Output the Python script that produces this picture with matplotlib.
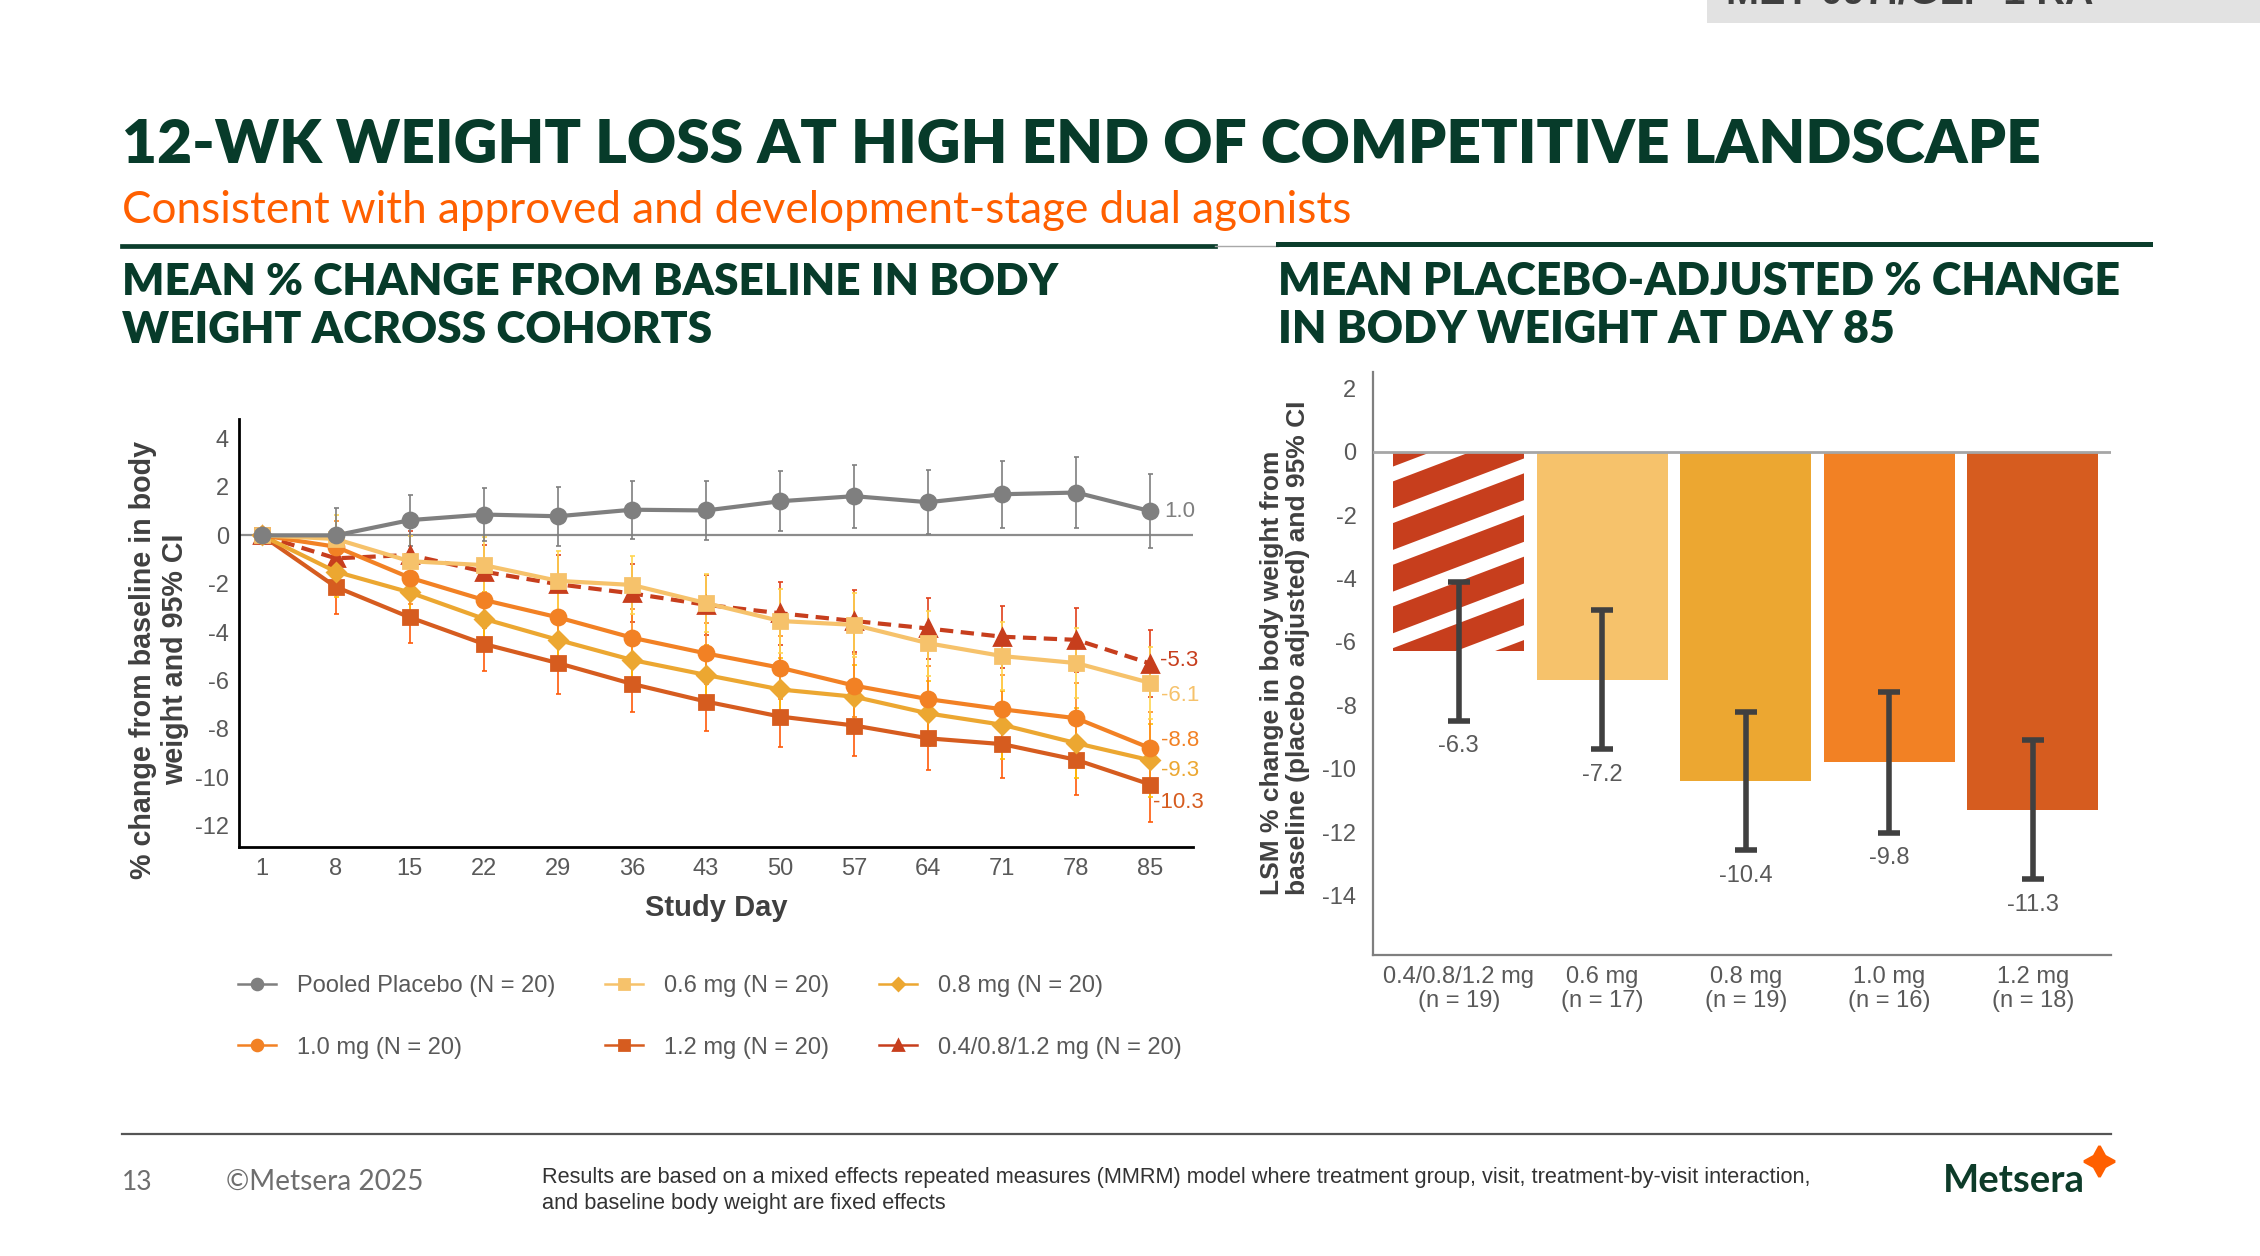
import matplotlib
matplotlib.use('Agg')
import matplotlib.pyplot as plt
from matplotlib.lines import Line2D
from matplotlib.patches import Rectangle

plt.rcParams['font.family'] = ['Liberation Sans', 'DejaVu Sans']
plt.rcParams['axes.unicode_minus'] = False

# ---------------- data
days = [1, 8, 15, 22, 29, 36, 43, 50, 57, 64, 71, 78, 85]

placebo = [0.0, 0.0, 0.63, 0.86, 0.79, 1.06, 1.03, 1.41, 1.62, 1.37, 1.70, 1.77, 1.0]
mg06 = [0.0, -0.15, -1.07, -1.23, -1.88, -2.05, -2.80, -3.54, -3.70, -4.46, -4.99, -5.28, -6.1]
mg08 = [0.0, -1.50, -2.36, -3.45, -4.32, -5.15, -5.77, -6.37, -6.67, -7.36, -7.83, -8.59, -9.3]
mg10 = [0.0, -0.47, -1.75, -2.67, -3.39, -4.23, -4.88, -5.47, -6.21, -6.77, -7.19, -7.56, -8.8]
mg12 = [0.0, -2.13, -3.39, -4.49, -5.28, -6.14, -6.87, -7.49, -7.86, -8.39, -8.63, -9.28, -10.3]
titr = [0.0, -0.95, -0.81, -1.50, -2.02, -2.40, -2.87, -3.22, -3.54, -3.85, -4.19, -4.32, -5.3]

# half widths of the 95% CI
placebo_ci = [0, 1.13, 1.05, 1.10, 1.22, 1.20, 1.22, 1.23, 1.30, 1.32, 1.38, 1.45, 1.53]
mg06_ci = [0, 1.00, 1.05, 1.15, 1.23, 1.20, 1.20, 1.34, 1.32, 1.35, 1.40, 1.45, 1.50]
mg08_ci = [0, 1.05, 1.05, 1.10, 1.20, 1.20, 1.25, 1.30, 1.30, 1.35, 1.40, 1.45, 1.50]
mg10_ci = [0, 1.05, 1.10, 1.15, 1.20, 1.20, 1.25, 1.30, 1.30, 1.35, 1.40, 1.45, 1.50]
mg12_ci = [0, 1.12, 1.06, 1.10, 1.26, 1.17, 1.22, 1.25, 1.26, 1.29, 1.39, 1.46, 1.54]
titr_ci = [0, 1.00, 1.00, 1.10, 1.20, 1.20, 1.25, 1.30, 1.30, 1.25, 1.28, 1.32, 1.40]

legend_labels = ['Pooled Placebo (N = 20)', '0.6 mg (N = 20)', '0.8 mg (N = 20)',
                 '1.0 mg (N = 20)', '1.2 mg (N = 20)', '0.4/0.8/1.2 mg (N = 20)']

bar_labels = ['0.4/0.8/1.2 mg\n(n = 19)', '0.6 mg\n(n = 17)', '0.8 mg\n(n = 19)',
              '1.0 mg\n(n = 16)', '1.2 mg\n(n = 18)']
bar_vals = [-6.3, -7.2, -10.4, -9.8, -11.3]
bar_ci = [2.19, 2.19, 2.18, 2.22, 2.19]

# ---------------- colours
GREEN = '#073B2A'
ORANGE = '#FF5F00'
GREY_TXT = '#595959'
c_plac, c06, c08, c10, c12, c_tit = '#7F7F7F', '#F6C26B', '#ECA731', '#F28124', '#D65C1F', '#C73E1D'
e_plac, e06, e08, e10, e12, e_tit = '#7F7F7F', '#FFD54F', '#FFC000', '#FF8A1F', '#FF5B0A', '#E0401A'

W, H = 2260, 1256
fig = plt.figure(figsize=(W / 200, H / 200), dpi=200)


def fx(px):
    return px / W


def fy(py):
    return 1 - py / H


# ================= left chart
ax1 = fig.add_axes([fx(239), fy(846.7), (1192.7 - 239) / W, (846.7 - 419) / H])
ax1.axhline(0, color='#8C8C8C', lw=0.8, zorder=1)

series = [
    (titr, titr_ci, c_tit, e_tit, '^', 5.6, (0, (3.2, 1.8))),
    (mg12, mg12_ci, c12, e12, 's', 4.8, '-'),
    (mg08, mg08_ci, c08, e08, 'D', 4.4, '-'),
    (mg10, mg10_ci, c10, e10, 'o', 5.4, '-'),
    (mg06, mg06_ci, c06, e06, 's', 4.8, '-'),
    (placebo, placebo_ci, c_plac, e_plac, 'o', 5.4, '-'),
]
for vals, ci, col, ecol, mk, ms, ls in series:
    ax1.errorbar(days, vals, yerr=ci, fmt='none', ecolor=ecol, elinewidth=0.6,
                 capsize=0.9, capthick=0.6, zorder=2)
    ax1.plot(days, vals, color=col, marker=mk, ms=ms, lw=1.5, ls=ls, zorder=3)

end_labels = [
    (placebo, c_plac, (5, 0)),
    (titr, c_tit, (3.6, 1)),
    (mg06, c06, (4, -4.7)),
    (mg10, c10, (4, 2.7)),
    (mg08, c08, (4, -3.6)),
    (mg12, c12, (1, -6.4)),
]
for vals, col, off in end_labels:
    ax1.annotate(f'{vals[-1]:.1f}', (days[-1], vals[-1]), xytext=off,
                 textcoords='offset points', ha='left', va='center',
                 fontsize=8, color=col)

ax1.set_xlim(-1.15, 89)
ax1.set_ylim(-12.87, 4.81)
ax1.set_xticks(days)
ax1.set_yticks(range(-12, 5, 2))
ax1.tick_params(axis='both', length=0, labelsize=8.5, labelcolor=GREY_TXT)
ax1.tick_params(axis='x', pad=4)
ax1.tick_params(axis='y', pad=3.6)
for s in ['top', 'right']:
    ax1.spines[s].set_visible(False)
for s in ['left', 'bottom']:
    ax1.spines[s].set_color('black')
    ax1.spines[s].set_linewidth(1.0)

ax1.set_xlabel('Study Day', fontsize=10.5, fontweight='bold', color='#404040')
ax1.xaxis.set_label_coords(0.5, -0.11)
ax1.set_ylabel('% change from baseline in body\nweight and 95% CI', fontsize=10.3,
               fontweight='bold', color='#404040', multialignment='center',
               linespacing=1.22)
ax1.yaxis.set_label_coords(-0.052, 0.437)

handles = []
for col, mk in [(c_plac, 'o'), (c06, 's'), (c08, 'D'), (c10, 'o'), (c12, 's'), (c_tit, '^')]:
    handles.append(Line2D([], [], color=col, marker=mk, ms=3.9 if mk != 'D' else 3.3, lw=0.9))
order = [0, 3, 1, 4, 2, 5]
fig.legend([handles[i] for i in order], [legend_labels[i] for i in order], ncol=3,
           loc='upper left', bbox_to_anchor=(fx(238), fy(975)), bbox_transform=fig.transFigure,
           frameon=False, fontsize=8.5, labelcolor=GREY_TXT, handlelength=1.6,
           handletextpad=0.9, columnspacing=2.1, labelspacing=1.68, borderpad=0,
           borderaxespad=0)

# ================= right chart
ax2 = fig.add_axes([fx(1372.6), fy(954.7), (2110.9 - 1372.6) / W, (954.7 - 371.8) / H])
xpos = list(range(len(bar_vals)))
bars = ax2.bar(xpos, bar_vals, width=0.912, color=[c_tit, c06, c08, c10, c12],
               lw=0, zorder=2)

# white diagonal stripes on the titration bar, clipped to the bar
b0 = bars[0]
left = b0.get_x()
for m in range(-6, 2):
    c = -0.70 + 1.315 * m
    stripe, = ax2.plot([left - 0.1, left + b0.get_width() + 0.1],
                       [c - 1.72 * 0.1, c + 1.72 * (b0.get_width() + 0.1)],
                       color='white', lw=5.0, solid_capstyle='butt', zorder=2.5)
    stripe.set_clip_path(b0)

ax2.axhline(0, color='#A6A6A6', lw=1.0, zorder=3)
ax2.errorbar(xpos, bar_vals, yerr=bar_ci, fmt='none', ecolor='#404040', elinewidth=2.0,
             capsize=4.1, capthick=2.0, zorder=4)
for i, (v, e) in enumerate(zip(bar_vals, bar_ci)):
    ax2.text(i, v - e - 0.8, f'{v:.1f}', ha='center', va='center', fontsize=8.5,
             color=GREY_TXT)

ax2.set_xlim(-0.6, 4.545)
ax2.set_ylim(-15.87, 2.52)
ax2.set_yticks(range(-14, 3, 2))
ax2.set_xticks(xpos)
ax2.set_xticklabels(bar_labels, linespacing=1.08)
ax2.tick_params(axis='both', length=0, labelsize=8.5, labelcolor=GREY_TXT)
ax2.tick_params(axis='x', pad=4.2)
ax2.tick_params(axis='y', pad=5.8)
for s in ['top', 'right']:
    ax2.spines[s].set_visible(False)
for s in ['left', 'bottom']:
    ax2.spines[s].set_color('#7F7F7F')
    ax2.spines[s].set_linewidth(0.8)
ax2.set_ylabel('LSM % change in body weight from\nbaseline (placebo adjusted) and 95% CI',
               fontsize=9.5, fontweight='bold', color='#404040', multialignment='left',
               linespacing=1.1)
ax2.yaxis.set_label_coords(-0.085, 0.527)

# ================= slide furniture
fig.add_artist(Rectangle((fx(1707), fy(23)), (W - 1707) / W, 23 / H,
                         transform=fig.transFigure, color='#E2E2E2', lw=0))
tag = fig.text(fx(1726), fy(3.5), 'MET-097i/GLP-1 RA', fontsize=13, fontweight='bold',
               color='#3F3F3F', va='baseline')

title = fig.text(fx(122), fy(163), '12-WK WEIGHT LOSS AT HIGH END OF COMPETITIVE LANDSCAPE',
                 family=['Lato', 'DejaVu Sans'], fontweight='heavy', color=GREEN,
                 fontsize=22, va='baseline')
subtitle = fig.text(fx(122), fy(222.7), 'Consistent with approved and development-stage dual agonists',
                    family=['Lato', 'DejaVu Sans'], color=ORANGE, fontsize=15, va='baseline')

fig.add_artist(Line2D([fx(122), fx(1215)], [fy(246), fy(246)], color='#0B3D2C', lw=1.7,
                      transform=fig.transFigure))
fig.add_artist(Line2D([fx(1215), fx(1278)], [fy(246), fy(246)], color='#A8A8A8', lw=0.5,
                      transform=fig.transFigure))
fig.add_artist(Line2D([fx(1278), fx(2150)], [fy(244), fy(244)], color='#0B3D2C', lw=1.8,
                      transform=fig.transFigure))

heads = []
for x0, lines, width in [(122, ['MEAN % CHANGE FROM BASELINE IN BODY', 'WEIGHT ACROSS COHORTS'], 937),
                         (1278, ['MEAN PLACEBO-ADJUSTED % CHANGE', 'IN BODY WEIGHT AT DAY 85'], 842)]:
    t1 = fig.text(fx(x0), fy(295), lines[0], family=['Lato', 'DejaVu Sans'], fontweight='heavy',
                  color=GREEN, fontsize=14, va='baseline')
    t2 = fig.text(fx(x0), fy(343.3), lines[1], family=['Lato', 'DejaVu Sans'], fontweight='heavy',
                  color=GREEN, fontsize=14, va='baseline')
    heads.append((t1, t2, width))

fig.add_artist(Line2D([fx(122), fx(2111)], [fy(1134), fy(1134)], color='#555555', lw=0.8,
                      transform=fig.transFigure))
fig.text(fx(122), fy(1190), '13', family=['Lato', 'DejaVu Sans'], color='#6E6E6E',
         fontsize=9.5, va='baseline')
copy = fig.text(fx(226), fy(1190), '©Metsera 2025', family=['Lato', 'DejaVu Sans'],
                color='#6E6E6E', fontsize=9.5, va='baseline')
note1 = fig.text(fx(542), fy(1183), 'Results are based on a mixed effects repeated measures (MMRM) '
                 'model where treatment group, visit, treatment-by-visit interaction,',
                 fontsize=7.3, color='#333333', va='baseline')
note2 = fig.text(fx(542), fy(1209.5), 'and baseline body weight are fixed effects',
                 fontsize=7.3, color='#333333', va='baseline')
logo = fig.text(fx(1943), fy(1191.7), 'Metsera', family=['Lato', 'DejaVu Sans'],
                fontweight='bold', color='#0D3B29', fontsize=14, va='baseline')
fig.add_artist(Line2D([fx(2099)], [fy(1160.7)], marker=(4, 1, 0), ms=11, color=ORANGE,
                      lw=0, transform=fig.transFigure))

# scale the slide texts to the widths measured on the reference
fig.canvas.draw()
r = fig.canvas.get_renderer()


def fit_width(t, px):
    w = t.get_window_extent(r).width
    t.set_fontsize(t.get_fontsize() * px / w)


fit_width(tag, 367)
fit_width(title, 1917)
fit_width(subtitle, 1225)
fit_width(copy, 198)
fit_width(note1, 1271)
note2.set_fontsize(note1.get_fontsize())
fit_width(logo, 142)
for t1, t2, width in heads:
    fit_width(t1, width)
    t2.set_fontsize(t1.get_fontsize())

fig.savefig('out.png', dpi=200, facecolor='white')
